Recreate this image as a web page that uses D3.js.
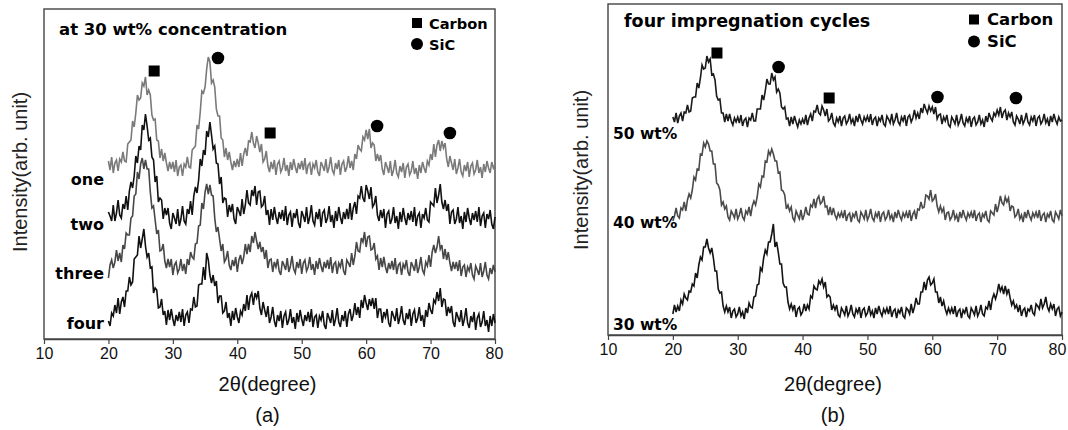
<!DOCTYPE html>
<html>
<head>
<meta charset="utf-8">
<script src="https://cdn.jsdelivr.net/npm/d3@7"></script>
<style>
  html, body { margin: 0; padding: 0; background: #fff; }
  svg { display: block; }
</style>
</head>
<body>
<svg id="chart" width="1068" height="430"></svg>
<script>
// ---------------- DATA ----------------
// 2θ grid: 20° → 80° every 0.25°
const thetaStart = 20, thetaStep = 0.25;
const xTicks = [10, 20, 30, 40, 50, 60, 70, 80];

// Panel (a): four curves, intensity (arb. unit, stacked)
const labelsA = ["one", "two", "three", "four"];
const seriesOne = [
178,169,182,166, 176,179,168,180, 177,187,178,177, 195,197,199,218, 212,226,244,239,
241,256,253,262, 244,249,244,224, 219,220,199,198, 181,190,178,186, 176,168,177,170,
177,167,179,163, 172,174,163,175, 172,182,172,171, 189,191,193,214, 210,227,248,246,
252,270,282,277, 256,259,252,230, 223,223,201,199, 182,191,179,187, 177,169,178,172,
180,172,186,173, 185,191,183,198, 197,207,196,191, 203,196,187,195, 177,180,188,173,
167,177,170,179, 164,175,178,167, 171,181,168,174, 163,177,169,180, 172,166,176,170,
178,169,181,165, 174,176,164,175, 171,179,167,163, 177,173,168,180, 166,172,182,169,
165,176,170,179, 164,175,178,167, 172,183,171,178, 169,185,180,194, 190,188,202,199,
209,200,210,191, 196,194,178,185, 178,184,170,164, 177,172,166,178, 163,169,179,166,
162,173,167,176, 161,172,175,164, 168,178,165,171, 160,174,166,177, 171,166,178,174,
185,179,195,182, 194,199,188,198, 191,196,180,172, 183,176,169,180, 165,171,180,167,
163,174,168,177, 162,173,176,165, 169,179,166,172, 161,175,167,178, 171,166,177,171,
174];
const seriesTwo = [
127,123,118,134, 118,126,139,124, 121,135,130,143, 129,148,157,151, 163,183,176,193,
189,214,209,225, 213,199,201,182, 179,157,163,137, 141,139,120,131, 124,131,116,110,
126,121,115,130, 113,120,133,118, 115,130,125,138, 124,143,152,146, 159,180,173,189,
184,208,202,217, 204,190,193,176, 175,155,162,136, 141,140,122,134, 127,135,120,115,
132,128,123,140, 125,134,149,136, 134,149,143,153, 134,147,148,132, 134,143,124,129,
114,130,119,132, 122,115,127,120, 129,118,133,114, 124,127,112,126, 121,130,116,111,
128,123,117,132, 115,122,134,118, 114,127,120,130, 112,126,129,116, 121,133,117,124,
111,128,118,132, 122,115,127,120, 130,120,136,119, 131,137,125,143, 141,153,141,137,
154,148,140,152, 132,135,143,124, 118,129,121,130, 111,125,128,115, 120,132,116,123,
110,127,117,131, 121,114,126,119, 128,117,132,113, 123,126,111,125, 121,131,119,117,
137,135,133,151, 136,144,155,137, 130,139,128,135, 115,127,129,115, 120,132,116,123,
110,127,117,131, 121,114,126,119, 128,117,132,113, 123,126,111,125, 120,129,115,110,
122];
const seriesThree = [
61,74,79,71, 77,89,78,86, 77,94,90,106, 104,104,121,123, 143,145,167,160,
175,181,170,179, 170,170,147,131, 133,119,105,109, 88,89,95,78, 71,80,72,80,
64,74,77,66, 70,80,68,75, 65,80,74,87, 82,80,95,96, 113,114,136,130,
147,155,145,154, 144,143,121,107, 112,100,88,95, 77,80,88,74, 69,79,73,82,
67,79,84,75, 82,95,85,95, 87,103,96,107, 98,90,97,87, 92,80,89,71,
79,80,67,77, 72,80,68,64, 78,74,69,81, 67,73,83,70, 66,77,71,80,
65,76,79,68, 72,82,69,75, 64,78,70,81, 73,67,77,71, 79,70,82,66,
75,77,65,76, 72,80,68,64, 79,76,72,86, 74,83,97,88, 87,101,97,107,
92,102,103,89, 90,96,80,83, 69,81,72,82, 72,66,76,70, 78,69,81,65,
74,76,64,75, 71,79,67,63, 77,73,68,80, 66,72,82,69, 65,77,73,84,
72,87,94,86, 92,103,90,94, 80,90,79,87, 76,68,77,70, 77,68,79,63,
72,74,62,72, 68,76,64,60, 73,69,64,76, 62,68,77,64, 60,71,65,74,
67];
const seriesFour = [
18,13,26,23, 34,26,41,25, 37,42,32,48, 48,62,54,57, 80,82,84,103,
91,100,110,93, 82,86,71,72, 46,51,49,31, 32,40,24,28, 14,29,19,30,
20,13,24,18, 27,17,30,13, 24,27,16,30, 29,42,32,33, 54,55,55,72,
59,86,79,64, 56,64,53,58, 36,43,43,26, 28,37,21,26, 13,28,19,31,
22,16,28,24, 35,28,44,29, 42,46,34,46, 41,48,31,24, 37,29,22,33,
16,22,32,18, 12,24,18,28, 11,23,27,14, 19,30,16,22, 10,26,17,29,
20,13,24,18, 27,17,30,12, 22,24,11,23, 19,28,14,10, 26,21,16,29,
13,20,31,17, 12,24,18,28, 12,25,30,18, 24,36,24,32, 21,39,31,44,
36,29,40,33, 41,30,41,21, 30,30,16,27, 22,30,16,12, 28,23,18,31,
15,22,33,19, 14,26,20,30, 13,25,29,16, 21,32,18,24, 12,29,22,36,
29,25,39,36, 47,38,51,32, 40,39,23,32, 26,33,17,12, 27,22,17,29,
13,20,31,16, 11,23,17,27, 9,21,25,12, 17,28,13,19, 7,23,13,25,
16];

// Panel (b): three curves
const labelsB = ["50 wt%", "40 wt%", "30 wt%"];
const series50 = [
218,213,222,212, 219,222,214,223, 222,230,223,224, 237,238,238,252, 247,257,270,266,
267,279,273,276, 260,261,255,239, 235,236,222,222, 213,221,214,221, 214,210,217,213,
218,212,220,209, 215,217,208,217, 215,222,214,214, 226,226,226,240, 235,244,256,251,
251,262,255,258, 243,246,242,228, 226,228,216,217, 209,218,211,219, 213,208,215,211,
216,211,220,210, 217,221,214,224, 223,230,222,220, 229,225,219,226, 214,216,222,212,
209,217,213,219, 209,217,219,211, 214,221,212,216, 209,219,213,221, 215,211,218,214,
219,213,221,210, 216,218,209,217, 214,220,211,209, 219,216,212,221, 211,215,222,213,
210,218,214,220, 209,218,220,213, 217,225,217,222, 216,227,222,231, 226,222,229,224,
228,221,228,216, 220,221,211,218, 214,220,210,208, 218,215,211,220, 210,214,221,212,
209,217,213,219, 208,216,218,210, 213,220,211,215, 208,219,213,222, 217,214,222,219,
225,220,228,217, 223,225,215,222, 218,223,213,210, 219,216,211,220, 211,215,222,213,
210,218,214,220, 209,217,219,211, 214,221,212,216, 209,219,213,221, 215,211,218,214,
215];
const series40 = [
114,119,127,119, 117,127,125,133, 124,135,141,137, 145,158,155,166, 165,181,180,192,
188,194,191,184, 184,171,171,152, 150,145,130,133, 126,129,118,115, 124,121,117,126,
116,120,127,118, 115,124,121,128, 119,129,134,130, 138,151,148,159, 158,174,173,184,
180,186,181,174, 174,162,163,145, 144,140,126,130, 124,128,117,114, 124,120,116,125,
115,120,128,121, 120,130,128,136, 127,136,139,131, 133,139,128,129, 120,128,120,127,
120,116,122,118, 123,117,125,114, 120,122,113,121, 118,124,115,113, 123,120,116,125,
115,119,126,117, 114,122,118,124, 113,121,123,115, 118,125,116,120, 113,123,117,125,
119,115,122,118, 123,117,125,114, 121,124,116,126, 125,133,127,128, 140,139,136,145,
134,136,141,129, 123,129,123,127, 115,122,123,115, 118,125,116,120, 113,123,117,125,
119,115,122,118, 123,117,125,114, 120,122,113,121, 118,124,115,113, 124,122,120,131,
123,130,139,132, 130,138,133,137, 124,129,128,118, 120,126,116,120, 113,123,117,125,
119,115,122,118, 123,117,125,114, 120,122,113,121, 118,124,115,113, 123,120,116,125,
119];
const series30 = [
21,30,23,29, 24,35,31,41, 37,35,44,43, 51,49,62,57, 70,78,75,88,
88,96,87,82, 87,77,64,64, 46,42,43,29, 23,29,23,28, 17,24,26,18,
21,28,19,23, 16,27,22,32, 28,27,38,39, 50,51,67,64, 77,85,81,93,
93,101,111,88, 93,83,71,71, 52,48,48,33, 26,31,25,30, 18,26,28,20,
23,31,24,30, 26,39,37,49, 46,45,54,51, 56,48,53,38, 40,38,25,30,
25,30,20,18, 27,24,20,29, 19,23,30,21, 18,26,22,28, 17,25,27,19,
22,29,20,24, 17,27,21,29, 23,19,26,22, 27,21,29,18, 24,26,17,25,
22,28,19,17, 27,25,21,31, 22,28,37,31, 31,43,43,53, 45,55,58,50,
52,56,43,43, 32,38,29,34, 26,21,27,22, 27,21,29,18, 24,26,17,25,
22,28,19,17, 27,24,20,29, 19,23,30,21, 19,28,26,34, 25,36,41,36,
42,51,44,48, 41,49,41,46, 37,30,34,27, 30,23,30,19, 25,27,18,26,
24,30,22,20, 31,29,26,36, 27,31,38,28, 24,31,26,31, 19,26,28,19,
23];

// Peak markers (phase, 2θ, intensity)
const markerTypeA  = ["square", "circle", "square", "circle", "circle"];
const markerThetaA = [27.1, 37.0, 45.1, 61.7, 73.0];
const markerValueA = [268, 281, 206, 213, 206];
const markerTypeB  = ["square", "circle", "square", "circle", "circle"];
const markerThetaB = [26.8, 36.3, 44.1, 60.8, 72.9];
const markerValueB = [282, 268, 237, 238, 237];

const legendNames = ["Carbon", "SiC"];
const legendTypes = ["square", "circle"];

// ---------------- DRAW ----------------
const svg = d3.select("#chart");
const theta = d3.range(seriesOne.length).map(i => thetaStart + i * thetaStep);

function drawPanel(cfg) {
  const g = svg.append("g");
  const x = d3.scaleLinear().domain([10, 80]).range([cfg.left, cfg.right]);
  const y = d3.scaleLinear().domain([0, cfg.bottom - cfg.top]).range([cfg.bottom, cfg.top]);

  // frame
  g.append("rect")
    .attr("x", cfg.left).attr("y", cfg.top)
    .attr("width", cfg.right - cfg.left).attr("height", cfg.bottom - cfg.top)
    .attr("fill", "none").attr("stroke", "#444").attr("stroke-width", 1.4);

  // curves
  const line = d3.line().x((d, i) => x(theta[i])).y(d => y(d));
  cfg.series.forEach((s, k) => {
    g.append("path").datum(s)
      .attr("d", line)
      .attr("fill", "none")
      .attr("stroke", cfg.colors[k])
      .attr("stroke-width", 1.6)
      .attr("stroke-linejoin", "miter");
  });

  // axis
  const axis = d3.axisBottom(x).tickValues(xTicks).tickSize(5).tickSizeOuter(0).tickPadding(4)
    .tickFormat(d3.format("d"));
  const ax = g.append("g").attr("transform", `translate(0,${cfg.bottom})`).call(axis);
  ax.select(".domain").attr("stroke", "#444").attr("stroke-width", 1.4);
  ax.selectAll(".tick line").attr("stroke", "#444").attr("stroke-width", 1.2);
  ax.selectAll(".tick text")
    .attr("font-family", "'Liberation Sans', Arial, sans-serif")
    .attr("font-size", 16).attr("fill", "#111")
    .attr("dx", d => (d === 80 ? cfg.lastDx : 0));

  // markers
  const marks = cfg.mTheta.map((t, i) => ({t, v: cfg.mValue[i], type: cfg.mType[i]}));
  g.selectAll("rect.m").data(marks.filter(d => d.type === "square")).enter()
    .append("rect").attr("class", "m")
    .attr("x", d => x(d.t) - 5.5).attr("y", d => y(d.v) - 5.5)
    .attr("width", 11).attr("height", 11).attr("fill", "#000");
  g.selectAll("circle.m").data(marks.filter(d => d.type === "circle")).enter()
    .append("circle").attr("class", "m")
    .attr("cx", d => x(d.t)).attr("cy", d => y(d.v)).attr("r", 6.3).attr("fill", "#000");

  // title
  g.append("text").attr("x", cfg.titleX).attr("y", cfg.titleY)
    .attr("font-family", "'DejaVu Sans', Verdana, sans-serif").attr("font-weight", "bold")
    .attr("font-size", cfg.titleSize).attr("fill", "#000").text(cfg.title);

  // legend
  legendNames.forEach((name, i) => {
    const ly = cfg.legY[i];
    if (legendTypes[i] === "square") {
      g.append("rect").attr("x", cfg.legMX - 5).attr("y", ly - 5).attr("width", 10).attr("height", 10).attr("fill", "#000");
    } else {
      g.append("circle").attr("cx", cfg.legMX).attr("cy", ly).attr("r", 6).attr("fill", "#000");
    }
    g.append("text").attr("x", cfg.legTX).attr("y", ly + 5.5)
      .attr("font-family", "'DejaVu Sans', Verdana, sans-serif").attr("font-weight", "bold")
      .attr("font-size", cfg.legSize).attr("fill", "#000").text(name);
  });

  // curve labels
  cfg.labels.forEach((lab, i) => {
    g.append("text").attr("x", cfg.labX).attr("y", cfg.labY[i])
      .attr("text-anchor", cfg.labAnchor)
      .attr("font-family", "'DejaVu Sans', Verdana, sans-serif").attr("font-weight", "bold")
      .attr("font-size", cfg.labSize).attr("fill", "#000").text(lab);
  });

  // axis titles
  const midX = (cfg.left + cfg.right) / 2 - 2;
  g.append("text").attr("x", midX).attr("y", 391).attr("text-anchor", "middle")
    .attr("font-family", "'Liberation Sans', Arial, sans-serif").attr("font-size", 20)
    .attr("fill", "#111").text("2θ(degree)");
  g.append("text").attr("x", midX).attr("y", 422).attr("text-anchor", "middle")
    .attr("font-family", "'Liberation Sans', Arial, sans-serif").attr("font-size", 20)
    .attr("fill", "#111").text(cfg.tag);
  g.append("text")
    .attr("transform", `translate(${cfg.yTitleX},${cfg.yTitleY}) rotate(-90)`)
    .attr("text-anchor", "middle")
    .attr("font-family", "'Liberation Sans', Arial, sans-serif").attr("font-size", 20)
    .attr("fill", "#222").text("Intensity(arb. unit)");
}

drawPanel({
  left: 44, right: 495, top: 9, bottom: 339,
  series: [seriesOne, seriesTwo, seriesThree, seriesFour],
  colors: ["#7a7a7a", "#111111", "#474747", "#111111"],
  mTheta: markerThetaA, mValue: markerValueA, mType: markerTypeA,
  title: "at 30 wt% concentration", titleX: 59, titleY: 35, titleSize: 16.5,
  legMX: 417, legTX: 429, legY: [23, 44], legSize: 14.6,
  labels: labelsA, labX: 104, labY: [185, 230, 279, 329], labAnchor: "end", labSize: 16,
  tag: "(a)", yTitleX: 27, yTitleY: 172, lastDx: -1
});

drawPanel({
  left: 608, right: 1062, top: 4, bottom: 335,
  series: [series50, series40, series30],
  colors: ["#1a1a1a", "#4a4a4a", "#141414"],
  mTheta: markerThetaB, mValue: markerValueB, mType: markerTypeB,
  title: "four impregnation cycles", titleX: 624, titleY: 27, titleSize: 17.5,
  legMX: 974, legTX: 987, legY: [19.5, 41.5], legSize: 16.5,
  labels: labelsB, labX: 613, labY: [139, 228, 330], labAnchor: "start", labSize: 15.5,
  tag: "(b)", yTitleX: 588, yTitleY: 170, lastDx: -5
});
</script>
</body>
</html>
